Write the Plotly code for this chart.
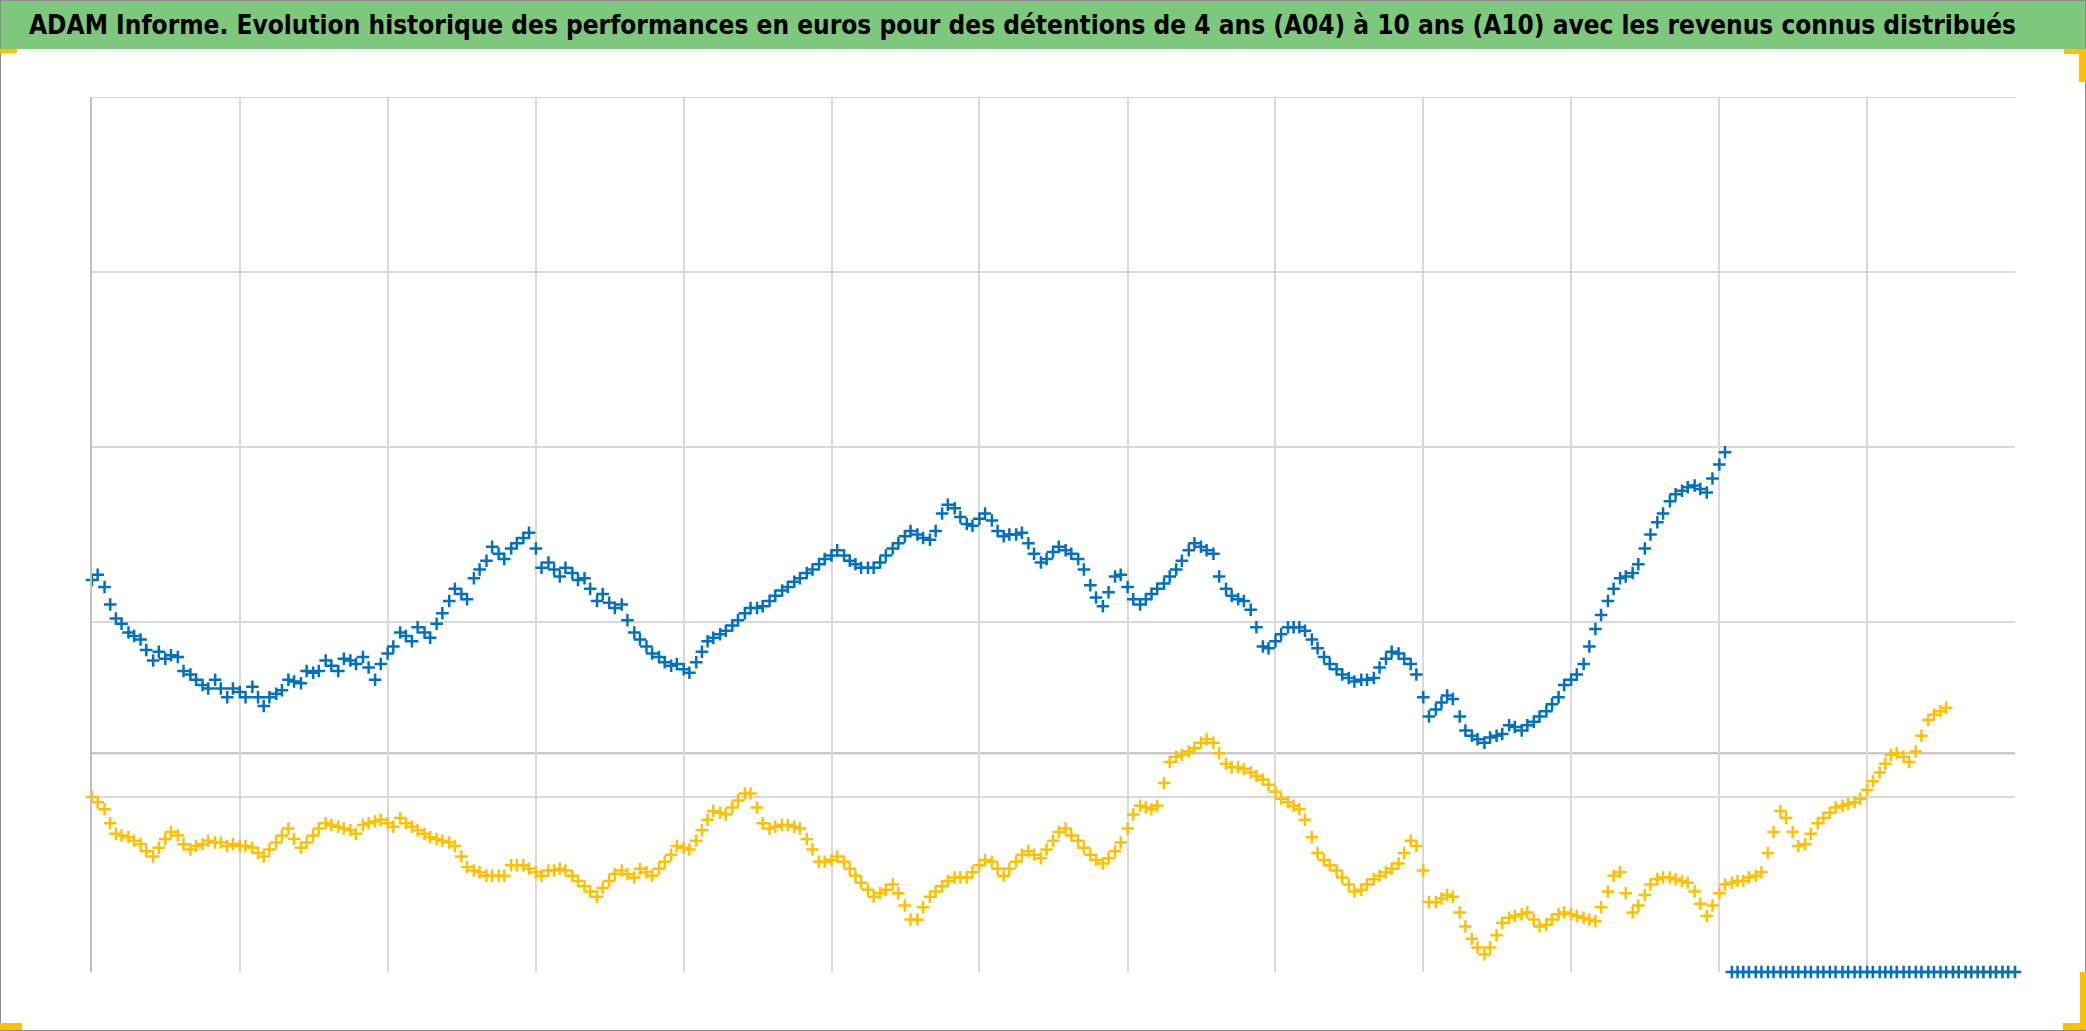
import plotly.graph_objects as go
import pandas as pd

TITLE = ("ADAM Informe. Evolution historique des performances en euros pour des détentions "
         "de 4 ans (A04) à 10 ans (A10) avec les revenus connus distribués")

START = "2010-01-01"
X_END = "2023-01-01"
YEAR_TICKS = ["2011-01-01", "2012-01-01", "2013-01-01", "2014-01-01", "2015-01-01", "2016-01-01",
              "2017-01-01", "2018-01-01", "2019-01-01", "2020-01-01", "2021-01-01", "2022-01-01"]
Y_TICKS = [1, 2, 3, 4, 5]
Y_TOP = 5
REF_LEVEL = 1.25

# A10 (blue), semi-monthly values
A10 = [
    2.24, 2.27, 2.20, 2.10, 2.02, 1.99, 1.94, 1.92, 1.90, 1.84, 1.78, 1.83, 1.79, 1.81, 1.80, 1.72, 1.70, 1.67, 1.64, 1.62, 1.67, 1.62, 1.57, 1.62,
    1.60, 1.57, 1.63, 1.57, 1.52, 1.57, 1.59, 1.61, 1.67, 1.66, 1.65, 1.72, 1.71, 1.72, 1.78, 1.75, 1.72, 1.79, 1.78, 1.76, 1.80, 1.74, 1.67, 1.76,
    1.82, 1.86, 1.94, 1.92, 1.89, 1.97, 1.94, 1.91, 1.99, 2.05, 2.12, 2.19, 2.16, 2.13, 2.25, 2.30, 2.35, 2.43, 2.39, 2.36, 2.42, 2.45, 2.48, 2.51,
    2.42, 2.31, 2.34, 2.30, 2.26, 2.31, 2.28, 2.24, 2.25, 2.19, 2.12, 2.16, 2.11, 2.08, 2.10, 2.01, 1.94, 1.90, 1.86, 1.82, 1.80, 1.77, 1.75, 1.76,
    1.73, 1.71, 1.77, 1.83, 1.89, 1.91, 1.93, 1.95, 1.98, 2.01, 2.05, 2.08, 2.08, 2.09, 2.12, 2.15, 2.18, 2.20, 2.23, 2.25, 2.28, 2.30, 2.33, 2.36,
    2.38, 2.41, 2.38, 2.35, 2.33, 2.31, 2.31, 2.31, 2.34, 2.38, 2.42, 2.45, 2.49, 2.52, 2.50, 2.48, 2.47, 2.52, 2.62, 2.67, 2.65, 2.60, 2.56, 2.55,
    2.59, 2.62, 2.58, 2.52, 2.49, 2.50, 2.50, 2.51, 2.45, 2.39, 2.34, 2.36, 2.40, 2.43, 2.41, 2.39, 2.36, 2.30, 2.21, 2.14, 2.09, 2.17, 2.26, 2.27,
    2.20, 2.13, 2.10, 2.13, 2.16, 2.19, 2.22, 2.26, 2.30, 2.35, 2.41, 2.45, 2.43, 2.41, 2.39, 2.26, 2.19, 2.15, 2.13, 2.12, 2.07, 1.97, 1.86, 1.85,
    1.89, 1.93, 1.97, 1.97, 1.97, 1.95, 1.90, 1.85, 1.80, 1.76, 1.73, 1.70, 1.68, 1.66, 1.67, 1.67, 1.68, 1.74, 1.79, 1.83, 1.82, 1.79, 1.76, 1.70,
    1.57, 1.46, 1.50, 1.54, 1.58, 1.56, 1.46, 1.38, 1.35, 1.33, 1.31, 1.34, 1.35, 1.36, 1.41, 1.40, 1.38, 1.41, 1.43, 1.46, 1.49, 1.53, 1.57, 1.64,
    1.67, 1.70, 1.76, 1.86, 1.96, 2.04, 2.12, 2.19, 2.25, 2.26, 2.28, 2.33, 2.42, 2.50, 2.57, 2.62, 2.69, 2.73, 2.75, 2.77, 2.78, 2.76, 2.74, 2.82,
    2.90, 2.97,
]
A10_TAIL = [0, 0, 0, 0, 0, 0, 0, 0, 0, 0, 0, 0, 0, 0, 0, 0, 0, 0, 0, 0, 0, 0, 0, 0,
            0, 0, 0, 0, 0, 0, 0, 0, 0, 0, 0, 0, 0, 0, 0, 0, 0, 0, 0, 0, 0, 0, 0]

# A04 (yellow), semi-monthly values
A04 = [
    1.00, 0.97, 0.93, 0.85, 0.79, 0.78, 0.77, 0.75, 0.73, 0.69, 0.66, 0.71, 0.76, 0.80, 0.78, 0.73, 0.70, 0.72, 0.73, 0.75, 0.74, 0.74, 0.72, 0.73,
    0.72, 0.72, 0.71, 0.68, 0.66, 0.70, 0.74, 0.78, 0.82, 0.76, 0.71, 0.74, 0.78, 0.82, 0.85, 0.84, 0.83, 0.82, 0.81, 0.79, 0.84, 0.85, 0.86, 0.87,
    0.85, 0.83, 0.88, 0.85, 0.83, 0.81, 0.79, 0.77, 0.76, 0.75, 0.74, 0.72, 0.66, 0.60, 0.58, 0.57, 0.55, 0.55, 0.55, 0.55, 0.61, 0.61, 0.61, 0.59,
    0.57, 0.55, 0.58, 0.58, 0.59, 0.58, 0.55, 0.52, 0.49, 0.46, 0.43, 0.48, 0.52, 0.56, 0.58, 0.56, 0.54, 0.59, 0.57, 0.55, 0.59, 0.63, 0.67, 0.72,
    0.71, 0.70, 0.75, 0.81, 0.87, 0.92, 0.91, 0.90, 0.94, 0.98, 1.02, 1.02, 0.94, 0.85, 0.82, 0.83, 0.84, 0.84, 0.83, 0.82, 0.76, 0.70, 0.63, 0.63,
    0.64, 0.66, 0.63, 0.59, 0.55, 0.51, 0.47, 0.43, 0.45, 0.47, 0.50, 0.45, 0.38, 0.30, 0.30, 0.37, 0.43, 0.46, 0.49, 0.52, 0.54, 0.54, 0.54, 0.57,
    0.61, 0.64, 0.63, 0.59, 0.55, 0.59, 0.63, 0.67, 0.69, 0.67, 0.65, 0.70, 0.75, 0.80, 0.82, 0.78, 0.75, 0.71, 0.67, 0.64, 0.62, 0.65, 0.69, 0.74,
    0.82, 0.90, 0.95, 0.94, 0.93, 0.95, 1.08, 1.20, 1.23, 1.24, 1.26, 1.28, 1.31, 1.33, 1.31, 1.25, 1.19, 1.17, 1.17, 1.16, 1.14, 1.12, 1.10, 1.07,
    1.03, 0.99, 0.97, 0.95, 0.93, 0.87, 0.77, 0.68, 0.64, 0.61, 0.58, 0.54, 0.50, 0.46, 0.47, 0.50, 0.53, 0.55, 0.57, 0.59, 0.62, 0.68, 0.75, 0.72,
    0.58, 0.40, 0.40, 0.42, 0.44, 0.43, 0.34, 0.26, 0.19, 0.14, 0.10, 0.14, 0.21, 0.28, 0.31, 0.32, 0.33, 0.34, 0.30, 0.26, 0.27, 0.30, 0.33, 0.34,
    0.33, 0.32, 0.31, 0.30, 0.29, 0.37, 0.46, 0.55, 0.57, 0.45, 0.34, 0.38, 0.44, 0.50, 0.53, 0.54, 0.54, 0.53, 0.52, 0.51, 0.46, 0.39, 0.32, 0.38,
    0.45, 0.50, 0.51, 0.52, 0.52, 0.54, 0.55, 0.57, 0.68, 0.80, 0.92, 0.88, 0.80, 0.72, 0.73, 0.79, 0.85, 0.88, 0.91, 0.94, 0.95, 0.96, 0.97, 0.99,
    1.04, 1.09, 1.14, 1.19, 1.24, 1.25, 1.23, 1.20, 1.26, 1.35, 1.44, 1.47, 1.49, 1.51,
]
A04_TAIL = [0, 0, 0, 0, 0, 0, 0, 0, 0, 0, 0]

BLUE = "#0070C0"
YELLOW = "#FFC000"
GREEN = "#7DC87D"
GRID = "#D9D9D9"
AXIS = "#BFBFBF"

W, H = 2086, 1031
L, R, T, B = 92, 2015, 97, 972


def px(x):
    return (x - L) / (R - L)


def py(y):
    return (B - y) / (B - T)


a10_vals = A10 + A10_TAIL
a04_vals = A04 + A04_TAIL
a10_dates = pd.date_range(START, periods=len(a10_vals), freq="SMS")
a04_dates = pd.date_range(START, periods=len(a04_vals), freq="SMS")

fig = go.Figure()
marker_common = dict(symbol="cross-thin", size=9)
fig.add_trace(go.Scatter(
    x=a04_dates, y=a04_vals, mode="markers", name="A04", cliponaxis=False,
    marker=dict(**marker_common, color=YELLOW, line=dict(width=2.5, color=YELLOW)),
))
fig.add_trace(go.Scatter(
    x=a10_dates, y=a10_vals, mode="markers", name="A10", cliponaxis=False,
    marker=dict(**marker_common, color=BLUE, line=dict(width=2.5, color=BLUE)),
))

shapes = [
    # title band
    dict(type="rect", xref="paper", yref="paper", x0=px(0), x1=px(W), y0=py(49), y1=py(0),
         fillcolor=GREEN, line=dict(width=0), layer="below"),
    # chart border
    dict(type="rect", xref="paper", yref="paper", x0=px(0.5), x1=px(W - 0.5), y0=py(H - 0.5), y1=py(0.5),
         line=dict(color="#8C8C8C", width=1)),
    # top gridline
    dict(type="line", xref="paper", yref="y", x0=0, x1=1, y0=Y_TOP, y1=Y_TOP,
         line=dict(color=GRID, width=2), layer="below"),
    # horizontal reference line
    dict(type="line", xref="paper", yref="y", x0=0, x1=1, y0=REF_LEVEL, y1=REF_LEVEL,
         line=dict(color=AXIS, width=2), layer="below"),
]
handles = [
    (0, 49, 17, 53),
    (0, 1023, 22, 1030),
    (2064, 49, 2086, 54),
    (2079, 49, 2086, 82),
    (2080, 972, 2086, 1030),
    (2063, 1023, 2086, 1030),
]
for x0, y0, x1, y1 in handles:
    shapes.append(dict(type="rect", xref="paper", yref="paper", x0=px(x0), x1=px(x1), y0=py(y1), y1=py(y0),
                       fillcolor=YELLOW, line=dict(width=0)))

fig.update_layout(
    width=W, height=H, autosize=False,
    margin=dict(l=L, r=W - R, t=T, b=H - B, pad=0),
    paper_bgcolor="white", plot_bgcolor="white",
    showlegend=False,
    shapes=shapes,
    annotations=[dict(
        text=TITLE, xref="paper", yref="paper", x=px(27), y=py(25),
        xanchor="left", yanchor="middle", showarrow=False,
        font=dict(family="DejaVu Sans Condensed, DejaVu Sans, sans-serif",
                  size=26, color="black", weight="bold"),
    )],
    xaxis=dict(type="date", range=[START, X_END], tickvals=YEAR_TICKS, showticklabels=False,
               showgrid=True, gridcolor=GRID, gridwidth=2, zeroline=False, showline=False, ticks=""),
    yaxis=dict(range=[0, 5], tickvals=Y_TICKS, showticklabels=False, showgrid=True, gridcolor=GRID,
               gridwidth=2, zeroline=False, showline=True, linecolor=AXIS, linewidth=2, ticks=""),
)

fig.write_html("out.html", config={"displayModeBar": False},
               post_script="document.body.style.margin='0';")
